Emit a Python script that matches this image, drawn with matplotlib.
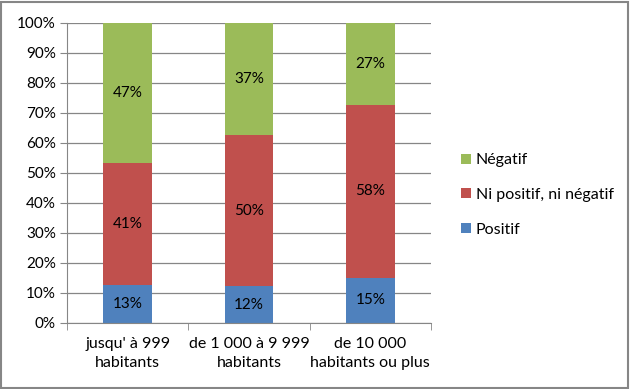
import numpy as np
import matplotlib.pyplot as plt
from matplotlib.patches import Rectangle
from matplotlib.ticker import PercentFormatter

categories = ["jusqu' à 999\nhabitants", "de 1 000 à 9 999\nhabitants", "de 10 000\nhabitants ou plus"]
positif = [12.6, 12.2, 15.1]
ni_ni = [40.6, 50.4, 57.6]
negatif = [46.8, 37.4, 27.3]

series = [("Positif", positif, "#4F81BD"),
          ("Ni positif, ni négatif", ni_ni, "#C0504D"),
          ("Négatif", negatif, "#9BBB59")]

plt.rcParams['font.family'] = ['Lato', 'DejaVu Sans']
plt.rcParams['font.size'] = 11

fig = plt.figure(figsize=(6.3, 3.89), dpi=100)
ax = fig.add_axes([67 / 630, 1 - 323 / 389, (431 - 67) / 630, (323 - 23) / 389])

x = np.arange(len(categories))
total = np.sum([s[1] for s in series], axis=0)
bottom = np.zeros(len(categories))
handles = []
for name, vals, color in series:
    pct = np.array(vals) / total * 100
    b = ax.bar(x, pct, 0.4, bottom=bottom, color=color, label=name, zorder=2)
    handles.append(b)
    for xi, yb, h, v in zip(x, bottom, pct, vals):
        ax.text(xi, yb + h / 2, f"{round(v)}%", ha='center', va='center', color='black', zorder=3)
    bottom += pct

ax.set_xlim(-0.5, len(categories) - 0.5)
ax.set_ylim(0, 100)
ax.set_yticks(np.arange(0, 101, 10))
ax.yaxis.set_major_formatter(PercentFormatter(decimals=0))
ax.grid(axis='y', color='#868686', linewidth=0.9, zorder=0)
ax.set_xticks(x)
ax.set_xticklabels(categories, linespacing=1.45, fontsize=11.5)
ax.set_xticks(np.arange(-0.5, len(categories)), minor=True)
ax.tick_params(axis='x', which='major', length=0, pad=10)
ax.tick_params(axis='x', which='minor', length=5, color='#868686')
ax.tick_params(axis='y', length=5, color='#868686', pad=3)
for side in ['top', 'right']:
    ax.spines[side].set_visible(False)
for side in ['left', 'bottom']:
    ax.spines[side].set_color('#868686')

ax.legend(handles[::-1], [s[0] for s in series][::-1], loc='center left',
          bbox_to_anchor=(455 / 630, 194 / 389), bbox_transform=fig.transFigure,
          frameon=False, handlelength=0.6, handleheight=0.6, handletextpad=0.3,
          labelspacing=1.3, borderaxespad=0, fontsize=11.5)

fig.patches.append(Rectangle((0.002, 0.003), 0.995, 0.993, transform=fig.transFigure,
                             fill=False, edgecolor='#868686', linewidth=1.5))

fig.savefig('out.png', dpi=100)
